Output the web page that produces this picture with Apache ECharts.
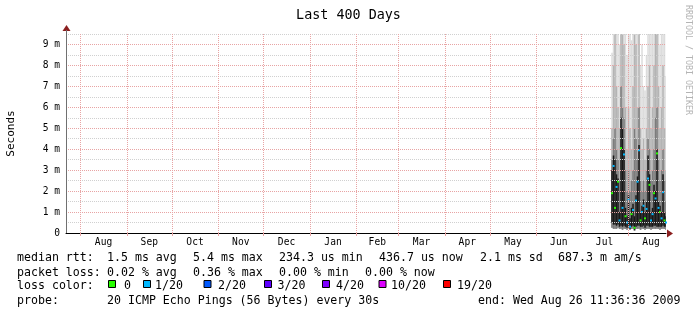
<!DOCTYPE html>
<html><head><meta charset="utf-8">
<script src="https://cdn.jsdelivr.net/npm/echarts@6/dist/echarts.min.js"></script>
<style>html,body{margin:0;padding:0;background:#fff}#c{width:697px;height:316px}</style>
</head><body><div id="c"></div>
<script>
// ---------- data ----------
const titleText = 'Last 400 Days';
const yAxisName = 'Seconds';
const endTimeText = '2009-08-26T11:36:36Z';
const spanDays = 400;
const monthStarts = ['2008-08-01','2008-09-01','2008-10-01','2008-11-01','2008-12-01','2009-01-01','2009-02-01','2009-03-01','2009-04-01','2009-05-01','2009-06-01','2009-07-01','2009-08-01','2009-09-01'];
const monthNames = ['Aug','Sep','Oct','Nov','Dec','Jan','Feb','Mar','Apr','May','Jun','Jul','Aug'];
const yTickValues = [0,1,2,3,4,5,6,7,8,9];

const days = ['2009-07-21','2009-07-22','2009-07-23','2009-07-24','2009-07-25','2009-07-26','2009-07-27','2009-07-28','2009-07-29','2009-07-30','2009-07-31',
  '2009-08-01','2009-08-02','2009-08-03','2009-08-04','2009-08-05','2009-08-06','2009-08-07','2009-08-08','2009-08-09','2009-08-10','2009-08-11','2009-08-12',
  '2009-08-13','2009-08-14','2009-08-15','2009-08-16','2009-08-17','2009-08-18','2009-08-19','2009-08-20','2009-08-21','2009-08-22','2009-08-23','2009-08-24','2009-08-25','2009-08-26'];
// values in ms
const medianRtt = [1.9,3.2,1.2,2.2,2.45,0.6,4.05,1.2,3.75,0.8,0.5,1.6,0.3,0.9,1.1,0.25,1.55,2.45,3.95,0.6,1.0,1.3,0.7,1.15,2.6,2.3,0.6,0.9,1.9,1.65,3.8,1.2,1.0,0.7,1.95,0.6,0.5];
const lossIndex = [0,1,0,1,0,1,0,1,1,0,1,1,1,0,1,0,1,1,1,0,1,1,0,1,1,0,1,1,0,1,0,1,0,1,1,0,1];
const smokeMin  = [0.25,0.2,0.2,0.2,0.25,0.2,0.2,0.15,0.2,0.2,0.15,0.2,0.15,0.2,0.2,0.1,0.2,0.2,0.2,0.15,0.2,0.2,0.15,0.2,0.2,0.2,0.15,0.2,0.2,0.2,0.2,0.2,0.15,0.2,0.2,0.2,0.15];
const smokeMax  = [8.6,10,10,10,10,9,10,10,10,10,8.5,10,10,9.2,10,10,10,10,10,8,9,7,6.8,8.5,10,10,9.5,10,10,10,10,10,9,10,10,10,7.5];
const smokeP90  = [5,8,10,7,6,5,10,10,9,6,4,6,5,4,7,10,9,6,10,5,4,4.5,3.5,5,7,8,5,6,8,10,10,7,5,6,8,5,3];
const smokeP75  = [3.5,4.5,5,4,3.5,2.5,7,6,5.5,3,2,3,2,2.5,3,5,4.5,3.5,6,2.5,2,2.5,2,3,4.5,4,2.5,3,4,5.5,6,3.5,2.5,3,4,2.5,1.5];
const coreLow   = [0.5,0.4,0.4,0.35,0.4,0.3,0.35,0.3,0.35,0.3,0.25,0.35,0.2,0.3,0.35,0.15,0.3,0.35,0.35,0.3,0.3,0.35,0.25,0.35,0.35,0.3,0.3,0.3,0.35,0.35,0.3,0.3,0.3,0.3,0.35,0.3,0.3];
const coreHigh  = [3.0,3.7,3.5,2.8,2.6,1.0,5.5,5.0,4.0,1.2,0.8,1.8,0.7,1.2,1.4,0.8,1.8,2.7,4.2,1.0,1.3,1.6,1.0,1.5,3.7,2.8,1.0,1.2,2.3,2.0,4.0,1.5,1.3,1.0,2.8,1.0,0.8];

const medianStats = ['1.5 ms avg','5.4 ms max','234.3 us min','436.7 us now','2.1 ms sd','687.3 m am/s'];
const lossStats = ['0.02 % avg','0.36 % max','0.00 % min','0.00 % now'];
const lossLabels = ['0','1/20','2/20','3/20','4/20','10/20','19/20'];
const lossColors = ['#26ff00','#00b8ff','#0059ff','#5e00ff','#7e00ff','#dd00ff','#ff0000'];
const rowLabels = ['median rtt:','packet loss:','loss color:','probe:'];
const probeText = '20 ICMP Echo Pings (56 Bytes) every 30s';
const endText = 'end: Wed Aug 26 11:36:36 2009';
const watermark = 'RRDTOOL / TOBI OETIKER';

// ---------- layout / style ----------
const FONT = 'DejaVu Sans Mono';
const DAY = 86400000;
const endTime = Date.parse(endTimeText);
const startTime = endTime - spanDays * DAY;
const tUTC = s => Date.parse(s + 'T00:00:00Z');
const tickVals = monthStarts.slice(0, 13).map(tUTC);
const labelVals = monthNames.map((m, i) => (tUTC(monthStarts[i]) + tUTC(monthStarts[i + 1])) / 2);
const dayT = days.map(d => tUTC(d));

const statX = [107,193,279,379,480,558];
const lossX = [107,193,279,365];
const boxX = [108,143,203.5,264,322,378.5,443];
const boxTextX = [124,155,218,277.5,336,391,457];
const rowY = [258,272.5,286,301];
const GRID_RED = '#e8a4a4';

function bandSeries(lowArr, highArr, color) {
  return {
    type: 'custom', z: 2, silent: true,
    data: dayT.map((t, i) => [t, lowArr[i], highArr[i]]),
    renderItem: function (params, api) {
      const t = api.value(0);
      const p1 = api.coord([t, api.value(2)]);
      const p2 = api.coord([t + DAY, api.value(1)]);
      const cs = params.coordSys;
      const r = echarts.graphic.clipRectByRect(
        {x: p1[0], y: p1[1], width: p2[0] - p1[0], height: p2[1] - p1[1]},
        {x: cs.x, y: cs.y, width: cs.width, height: cs.height});
      return r && {type: 'rect', shape: r, style: {fill: color}};
    }
  };
}

const medianSeries = {
  type: 'custom', z: 3, silent: true,
  data: dayT.map((t, i) => [t, medianRtt[i], lossIndex[i]]),
  renderItem: function (params, api) {
    const p = api.coord([api.value(0) + DAY / 2, api.value(1)]);
    return {type: 'rect', shape: {x: p[0] - 1, y: p[1] - 1, width: 2, height: 2},
            style: {fill: lossColors[api.value(2)]}};
  }
};

const monthGridSeries = {
  type: 'line', z: 4, data: [], silent: true,
  markLine: {
    silent: true, symbol: ['none', 'none'], label: {show: false}, animation: false,
    lineStyle: {color: GRID_RED, width: 1, type: [1, 1]},
    data: tickVals.map(v => ({xAxis: v}))
  }
};

const graphics = [];
function txt(x, y, s, extra) {
  graphics.push(Object.assign({type: 'text', x: x, y: y, silent: true,
    style: {text: s, font: '11.6px "' + FONT + '"', fill: '#000', verticalAlign: 'middle', align: 'left'}}, extra || {}));
}
rowLabels.forEach((s, i) => txt(17, rowY[i], s));
medianStats.forEach((s, i) => txt(statX[i], rowY[0], s));
lossStats.forEach((s, i) => txt(lossX[i], rowY[1], s));
lossLabels.forEach((s, i) => {
  graphics.push({type: 'rect', silent: true, shape: {x: boxX[i] + 0.5, y: 280.5, width: 7, height: 7},
    style: {fill: lossColors[i], stroke: '#000', lineWidth: 1}});
  txt(boxTextX[i], rowY[2], s);
});
txt(107, rowY[3], probeText);
txt(478, rowY[3], endText);
graphics.push({type: 'text', x: 688.5, y: 5, rotation: -Math.PI / 2, silent: true,
  style: {text: watermark, font: '8.3px "' + FONT + '"', fill: '#b4b4b4', verticalAlign: 'middle', align: 'left'}});
graphics.push({type: 'polygon', silent: true, shape: {points: [[66.5, 25], [62.5, 31], [70.5, 31]]}, style: {fill: '#8b1f1f'}});
graphics.push({type: 'line', silent: true, shape: {x1: 66.5, y1: 30, x2: 66.5, y2: 34}, style: {stroke: '#707070', lineWidth: 1}});
graphics.push({type: 'polygon', silent: true, shape: {points: [[673, 233.5], [667, 229.5], [667, 237.5]]}, style: {fill: '#8b1f1f'}});

const chart = echarts.init(document.getElementById('c'), null, {renderer: 'canvas'});
chart.setOption({
  animation: false,
  backgroundColor: '#fff',
  title: {text: titleText, left: 'center', top: 4,
    textStyle: {fontFamily: FONT, fontSize: 13.4, fontWeight: 'normal', color: '#000'}},
  grid: {left: 66, right: 31, top: 34, bottom: 83, containLabel: false, outerBoundsMode: 'none'},
  xAxis: {
    type: 'value', min: startTime, max: endTime, z: 5,
    axisLine: {lineStyle: {color: '#000', width: 1}},
    axisTick: {show: true, customValues: tickVals, length: 3, inside: false, lineStyle: {color: GRID_RED}},
    axisLabel: {customValues: labelVals, margin: 4, fontFamily: FONT, fontSize: 9.6, color: '#000',
      formatter: function (v) { const i = labelVals.indexOf(v); return i >= 0 ? monthNames[i] : ''; }},
    splitLine: {show: false}
  },
  yAxis: {
    type: 'value', min: 0, max: 9.5, interval: 0.5, z: 5,
    name: yAxisName, nameLocation: 'middle', nameRotate: 90, nameGap: 49,
    nameTextStyle: {fontFamily: FONT, fontSize: 11, color: '#000'},
    axisLine: {show: true, lineStyle: {color: '#707070', width: 1}},
    axisTick: {show: false},
    axisLabel: {margin: 6, fontFamily: FONT, fontSize: 9.6, color: '#000',
      formatter: function (v) { if (yTickValues.indexOf(v) < 0) return ''; return v === 0 ? '0' : v + ' m'; }},
    splitLine: {show: true, lineStyle: {color: [GRID_RED, '#d0d0d0'], width: 1, type: [1, 1]}}
  },
  series: [
    bandSeries(smokeMin, smokeMax, '#dcdcdc'),
    bandSeries(smokeMin, smokeP90, '#b4b4b4'),
    bandSeries(smokeMin, smokeP75, '#7c7c7c'),
    bandSeries(coreLow, coreHigh, '#181818'),
    medianSeries,
    monthGridSeries
  ],
  graphic: graphics
});
</script></body></html>
